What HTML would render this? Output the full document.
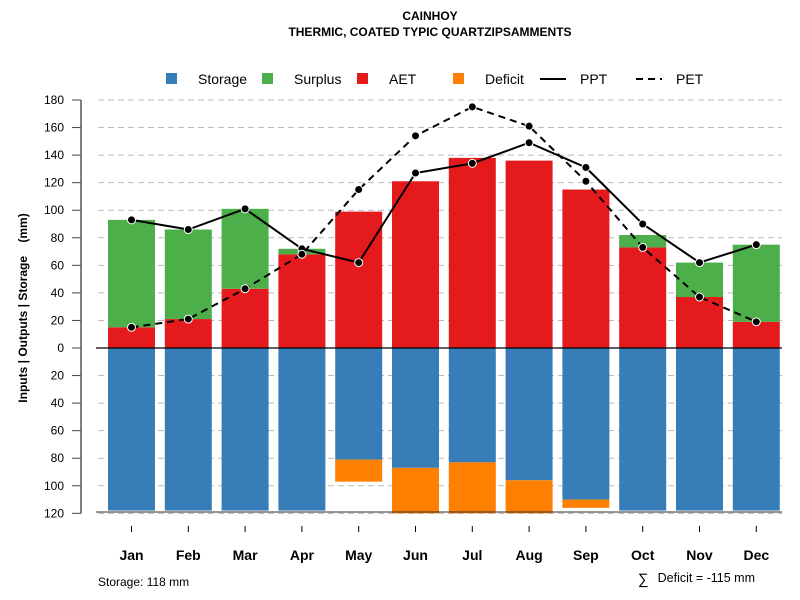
<!DOCTYPE html>
<html><head><meta charset="utf-8"><style>
body{margin:0;background:#fff;font-family:"Liberation Sans",sans-serif}
svg{display:block}
</style></head><body>
<svg id="c" width="800" height="600" xmlns="http://www.w3.org/2000/svg" font-family="Liberation Sans, sans-serif">
<text x="430" y="20" text-anchor="middle" font-size="12" font-weight="bold">CAINHOY</text>
<text x="430" y="36" text-anchor="middle" font-size="12" font-weight="bold">THERMIC, COATED TYPIC QUARTZIPSAMMENTS</text>
<g font-size="14">
<rect x="166" y="73" width="11" height="11" fill="#377eb8"/><text x="198" y="84">Storage</text>
<rect x="262" y="73" width="11" height="11" fill="#4daf4a"/><text x="294" y="84">Surplus</text>
<rect x="357" y="73" width="11" height="11" fill="#e41a1c"/><text x="389" y="84">AET</text>
<rect x="453" y="73" width="11" height="11" fill="#ff7f00"/><text x="485" y="84">Deficit</text>
<line x1="540" y1="79" x2="566" y2="79" stroke="#000" stroke-width="2"/><text x="580" y="84">PPT</text>
<line x1="636" y1="79" x2="662" y2="79" stroke="#000" stroke-width="2" stroke-dasharray="7,5"/><text x="676" y="84">PET</text>
</g>
<g id="grid"></g><g id="bars"></g><g id="lines"></g><g id="axes"></g>
<text transform="translate(27,308) rotate(-90)" text-anchor="middle" font-size="12" font-weight="bold" xml:space="preserve">Inputs | Outputs | Storage    (mm)</text>
<text x="98" y="586" font-size="12">Storage: 118 mm</text>
<text x="638" y="584" font-size="15">∑</text>
<text x="755" y="582" text-anchor="end" font-size="12.5">Deficit = -115 mm</text>
</svg>
<script>
const months=["Jan","Feb","Mar","Apr","May","Jun","Jul","Aug","Sep","Oct","Nov","Dec"];
const aet=[15,21,43,68,99,121,138,136,115,73,37,19];
const surplus=[78,65,58,4,0,0,0,0,0,9,25,56];
const storage=[118,118,118,118,81,87,83,96,110,118,118,118];
const deficit=[0,0,0,0,16,33,37,24,6,0,0,0];
const ppt=[93,86,101,72,62,127,134,149,131,90,62,75];
const pet=[15,21,43,68,115,154,175,161,121,73,37,19];
const yTicks=[180,160,140,120,100,80,60,40,20,0,-20,-40,-60,-80,-100,-120];
const NS="http://www.w3.org/2000/svg";
const y=v=>348-v*1.3778;
const x=i=>131.5+i*56.8;
const bw=47;
function mk(p,t,a){const e=document.createElementNS(NS,t);for(const k in a)e.setAttribute(k,a[k]);document.getElementById(p).appendChild(e);return e;}
yTicks.forEach(v=>{
 let g=mk('grid','line',{x1:98,x2:782,y1:y(v),y2:y(v),stroke:'#bbb','stroke-dasharray':'6,4'});
 
 
 let t=mk('axes','text',{x:64,y:y(v)+4,'text-anchor':'end','font-size':12});
 t.textContent=Math.abs(v);
 
 
 let tk=mk('axes','line',{x1:72,x2:81,y1:y(v),y2:y(v),stroke:'#444'});
 
 
});
months.forEach((m,i)=>{
 const L=x(i)-bw/2;
 let r=mk('bars','rect',{x:L,y:y(aet[i]),width:bw,height:y(0)-y(aet[i]),fill:'#e41a1c'});
 
 
 if(surplus[i]>0){let s=mk('bars','rect',{x:L,y:y(aet[i]+surplus[i]),width:bw,height:y(aet[i])-y(aet[i]+surplus[i]),fill:'#4daf4a'});
 
 }
 let st=mk('bars','rect',{x:L,y:y(0),width:bw,height:y(-storage[i])-y(0),fill:'#377eb8'});
 
 
 if(deficit[i]>0){let d=mk('bars','rect',{x:L,y:y(-storage[i]),width:bw,height:y(-storage[i]-deficit[i])-y(-storage[i]),fill:'#ff7f00'});
 
 }
 let t=mk('axes','text',{x:x(i),y:560,'text-anchor':'middle','font-size':14,'font-weight':'bold'});
 t.textContent=m;
 
 
 let tk=mk('axes','line',{x1:x(i),x2:x(i),y1:526,y2:532,stroke:'#000'});
 
 
});
let z=mk('axes','line',{x1:96,x2:782,y1:y(0),y2:y(0),stroke:'#000','stroke-width':1.3});


let b=mk('axes','line',{x1:96,x2:782,y1:512,y2:512,stroke:'#333'});


let ya=mk('axes','line',{x1:81,x2:81,y1:y(180),y2:y(-120),stroke:'#555','stroke-width':1.5});


[[ppt,null,'ppt'],[pet,'7,5','pet']].forEach(([d,da,n])=>{
 const a={points:d.map((v,i)=>x(i)+','+y(v)).join(' '),fill:'none',stroke:'#000','stroke-width':2};
 if(da)a['stroke-dasharray']=da;
 let p=mk('lines','polyline',a);
 
 
 d.forEach((v,i)=>{let c=mk('lines','circle',{cx:x(i),cy:y(v),r:4,fill:'#000',stroke:'#fff','stroke-width':1});
 
 });
});
</script>
</body></html>
